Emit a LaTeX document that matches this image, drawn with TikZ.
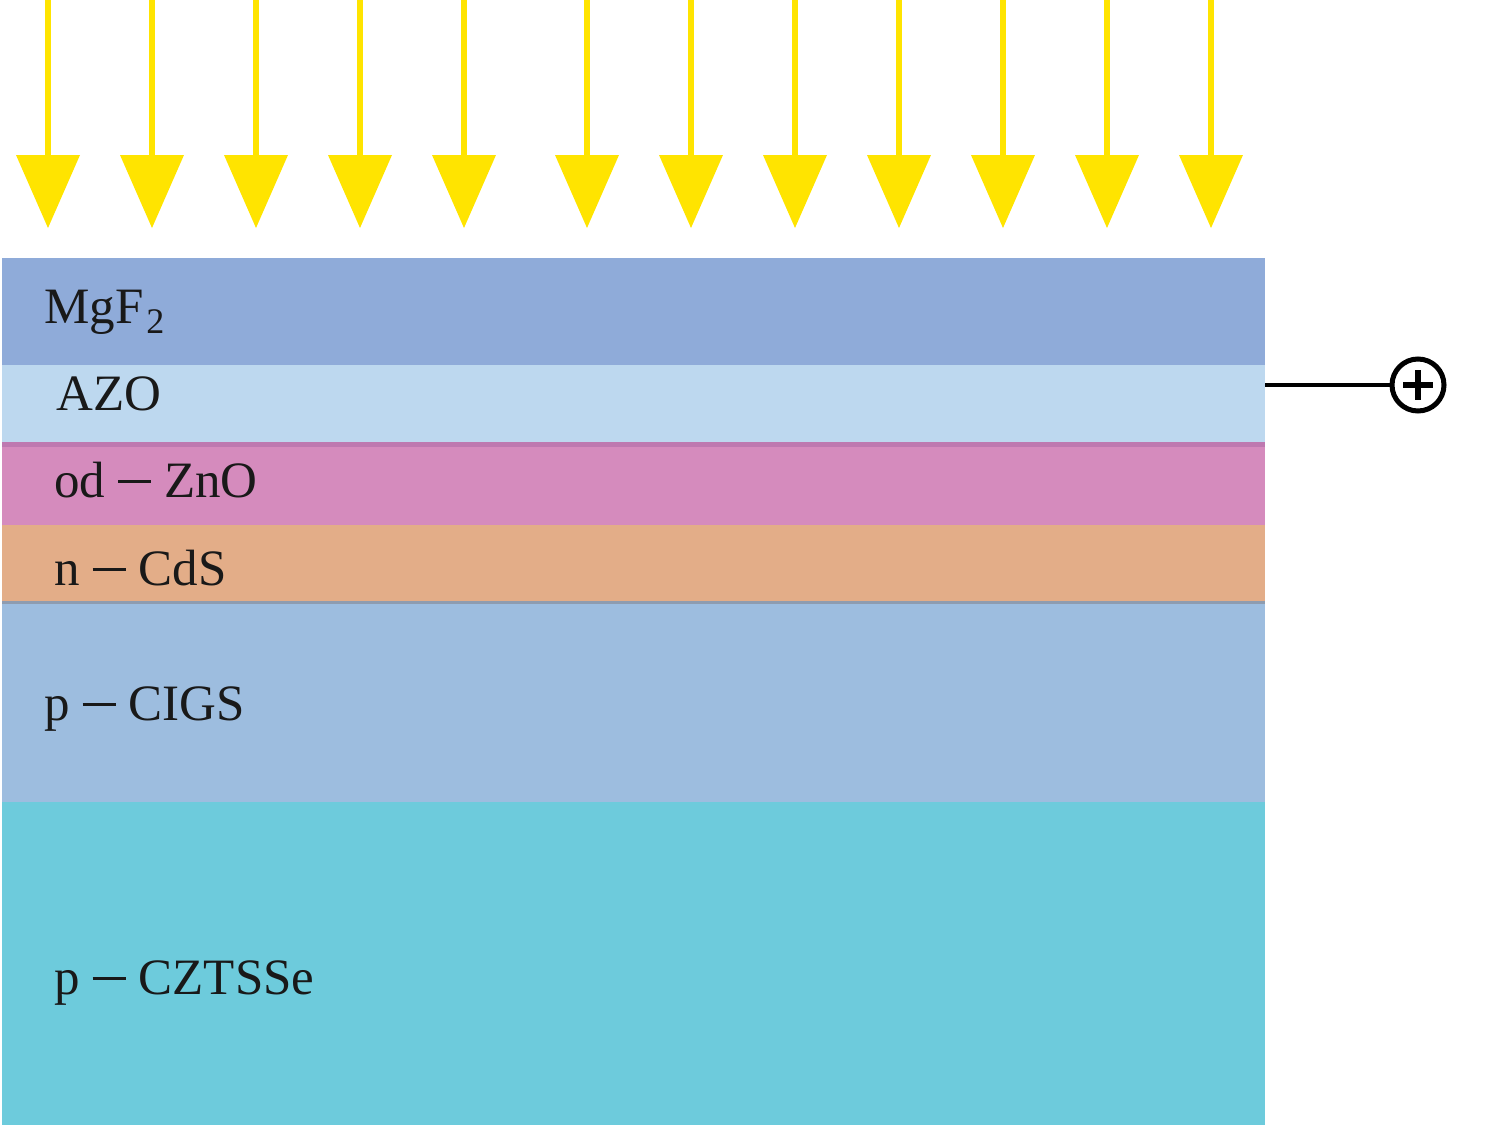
\documentclass[tikz,border=0pt]{standalone}
\usepackage{fontspec}
\setmainfont{Liberation Serif}
\definecolor{cMgF}{HTML}{8FABD9}
\definecolor{cAZO}{HTML}{BDD8EF}
\definecolor{cZnO}{HTML}{D58BBD}
\definecolor{cZnOline}{HTML}{BE79B0}
\definecolor{cCdS}{HTML}{E3AD88}
\definecolor{cCdSline}{HTML}{8E9CB0}
\definecolor{cCIGS}{HTML}{9DBDDF}
\definecolor{cCZT}{HTML}{6DCBDC}
\definecolor{sunyellow}{RGB}{255,228,0}
\newcommand{\mydash}{\hspace{13pt}\rule[14pt]{33pt}{2.8pt}\hspace{13pt}}
\newcommand{\mysub}[1]{\raisebox{-10pt}{\fontsize{36}{36}\selectfont #1}}
\tikzset{
  layerlabel/.style={anchor=base west, inner sep=0pt, font=\fontsize{51}{51}\selectfont, text=black!90},
  shaft/.style={draw=sunyellow, line width=6pt},
  head/.style={fill=sunyellow},
}
\begin{document}
\begin{tikzpicture}[x=1pt,y=-1pt]
\useasboundingbox (0,0) rectangle (1500,1125);
% layers
\fill[cMgF] (2,258) rectangle (1265,365);
\fill[cAZO] (2,365) rectangle (1265,443);
\fill[cZnO] (2,443) rectangle (1265,525);
\fill[cZnOline] (2,442) rectangle (1265,447);
\fill[cCdS] (2,525) rectangle (1265,602);
\fill[cCdSline] (2,601) rectangle (1265,603.5);
\fill[cCIGS] (2,603.5) rectangle (1265,802);
\fill[cCZT] (2,802) rectangle (1265,1125);
% labels
\node[layerlabel] (mgf) at (44,323) {MgF\hspace{3pt}\mysub{2}};
\node[layerlabel] (azo) at (56,410) {AZO};
\node[layerlabel] (zno) at (54,497) {od\mydash ZnO};
\node[layerlabel] (cds) at (54,585) {n\mydash CdS};
\node[layerlabel] (cigs) at (44,720) {p\mydash CIGS};
\node[layerlabel] (czt) at (54,994) {p\mydash CZTSSe};
% sun rays
\foreach \x in {48,152,256,360,464,587,691,795,899,1003,1107,1211}{
  \draw[shaft] (\x,0) -- (\x,162);
  \fill[head] (\x-32,155) -- (\x+32,155) -- (\x,228) -- cycle;
}
% terminal
\coordinate (tstart) at (1265,385);
\node[circle, draw=black, line width=5pt, minimum size=52pt, inner sep=0pt] (plus) at (1418,385) {};
\draw[line width=4.5pt] (tstart) -- (plus.west);
\draw[line width=6pt] (1403,385) -- (1433,385);
\draw[line width=6pt] (1418,370) -- (1418,400);
\end{tikzpicture}
\end{document}
